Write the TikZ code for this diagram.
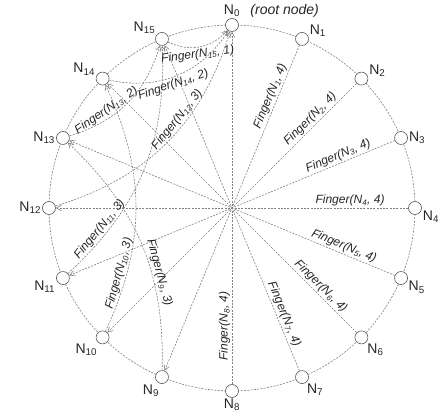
\documentclass[tikz,border=0pt]{standalone}
\usepackage{fontspec}
\setmainfont{Liberation Sans}
\usetikzlibrary{arrows.meta,positioning}
\newcommand{\nodefont}{\fontsize{14}{16}\selectfont}
\newcommand{\fingerfont}{\fontsize{12}{14}\selectfont\itshape}
\tikzset{
  peer/.style   = {draw=black!65, fill=white, circle, inner sep=0pt,
                   minimum size=13pt, line width=0.6pt},
  ring/.style   = {draw=black!50, line width=0.6pt, dash pattern=on 2pt off 1.3pt},
  finger/.style = {ring, -{Straight Barb[length=5pt,width=5.5pt]}},
  flabel/.style = {font=\fingerfont, text=black!85, sloped, inner sep=1.5pt},
  nlabel/.style = {font=\nodefont, text=black!85, inner sep=1pt},
}

\begin{document}
\begin{tikzpicture}[x=1pt,y=1pt]
\useasboundingbox (0,0) rectangle (448,-411);
\clip (0,0) rectangle (448,-411);
\begin{scope}[shift={(232,-208)}]
% ---------- ring ----------
\draw[ring] (0,0) circle (183);
% ---------- peers ----------
\foreach \i/\a/\d in {0/90/0,1/12/3,2/10/2,3/0/9,4/-10/8,5/-18/3,6/-45/4,7/-55/4,
                      8/-90/5,9/-105/5,10/-130/3,11/195/0,12/180/3,13/180/0,14/160/1,15/145/2}
  \node[peer, label distance=\d pt, label={[nlabel, name=L\i]\a:N\textsubscript{\i}}]
    (N\i) at (90-22.5*\i:183) {};
\node[nlabel, font=\nodefont\itshape, right=8pt of L0] (root) {(root node)};
% ---------- fingers of level 4 ----------
\foreach \i in {1,...,8} {
  \pgfmathtruncatemacro{\j}{mod(\i+8,16)}
  \draw[finger] (N\i) -- node[flabel, pos=0.165, above] {Finger(N\textsubscript{\i}, 4)} (N\j);
}
% ---------- fingers of levels 1 to 3 ----------
\foreach \i/\j/\k/\b/\p/\s in {9/13/3/24/0.37/above, 10/14/3/25/0.22/above,
                              11/15/3/25/0.2/above, 12/0/3/28/0.6/above,
                              13/15/2/28/0.33/above, 14/0/2/35/0.45/below,
                              15/0/1/38/0.45/below}
  \draw[finger] (N\i) to[bend right=\b] node[flabel, pos=\p, \s] {Finger(N\textsubscript{\i}, \k)} (N\j);
\end{scope}
\end{tikzpicture}
\end{document}
